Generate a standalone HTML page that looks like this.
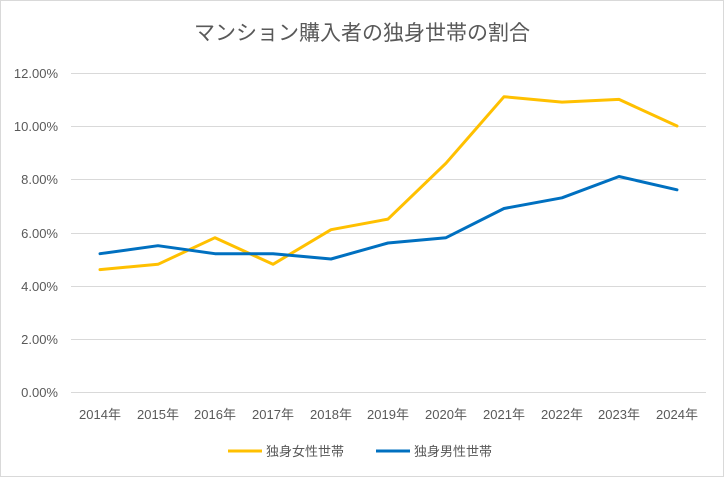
<!DOCTYPE html>
<html><head><meta charset="utf-8"><style>
body{margin:0;background:#fff;}
svg{display:block;font-family:"Liberation Sans","Noto Sans CJK JP",sans-serif;}
</style></head><body>
<svg width="724" height="477" viewBox="0 0 724 477">
<rect x="0.5" y="0.5" width="723" height="476" fill="#fff" stroke="#d9d9d9"/>
<text x="362" y="40" text-anchor="middle" font-size="21" fill="#595959">マンション購入者の独身世帯の割合</text>
<g stroke="#d9d9d9" stroke-width="1">
<line x1="71" x2="706" y1="73.5" y2="73.5"/>
<line x1="71" x2="706" y1="126.5" y2="126.5"/>
<line x1="71" x2="706" y1="179.5" y2="179.5"/>
<line x1="71" x2="706" y1="233.5" y2="233.5"/>
<line x1="71" x2="706" y1="286.5" y2="286.5"/>
<line x1="71" x2="706" y1="339.5" y2="339.5"/>
<line x1="71" x2="706" y1="392.5" y2="392.5"/>
</g>
<g font-size="13" fill="#595959" text-anchor="end">
<text x="58" y="78">12.00%</text>
<text x="58" y="131">10.00%</text>
<text x="58" y="184">8.00%</text>
<text x="58" y="238">6.00%</text>
<text x="58" y="291">4.00%</text>
<text x="58" y="344">2.00%</text>
<text x="58" y="397">0.00%</text>
</g>
<g font-size="13" fill="#595959" text-anchor="middle">
<text x="100" y="419">2014年</text>
<text x="158" y="419">2015年</text>
<text x="215" y="419">2016年</text>
<text x="273" y="419">2017年</text>
<text x="331" y="419">2018年</text>
<text x="388" y="419">2019年</text>
<text x="446" y="419">2020年</text>
<text x="504" y="419">2021年</text>
<text x="562" y="419">2022年</text>
<text x="619" y="419">2023年</text>
<text x="677" y="419">2024年</text>
</g>
<polyline fill="none" stroke="#FFC000" stroke-width="3" stroke-linejoin="round" stroke-linecap="round" points="100,269.6 158,264.3 215,237.7 273,264.3 331,229.7 388,219.1 446,163.2 504,96.7 562,102.1 619,99.4 677,126"/>
<polyline fill="none" stroke="#0070C0" stroke-width="3" stroke-linejoin="round" stroke-linecap="round" points="100,253.7 158,245.7 215,253.7 273,253.7 331,259 388,243 446,237.7 504,208.5 562,197.8 619,176.5 677,189.8"/>
<line x1="228" x2="262" y1="451" y2="451" stroke="#FFC000" stroke-width="3"/>
<text x="266" y="456" font-size="13" fill="#595959">独身女性世帯</text>
<line x1="376" x2="410" y1="451" y2="451" stroke="#0070C0" stroke-width="3"/>
<text x="414" y="456" font-size="13" fill="#595959">独身男性世帯</text>
</svg>
</body></html>
